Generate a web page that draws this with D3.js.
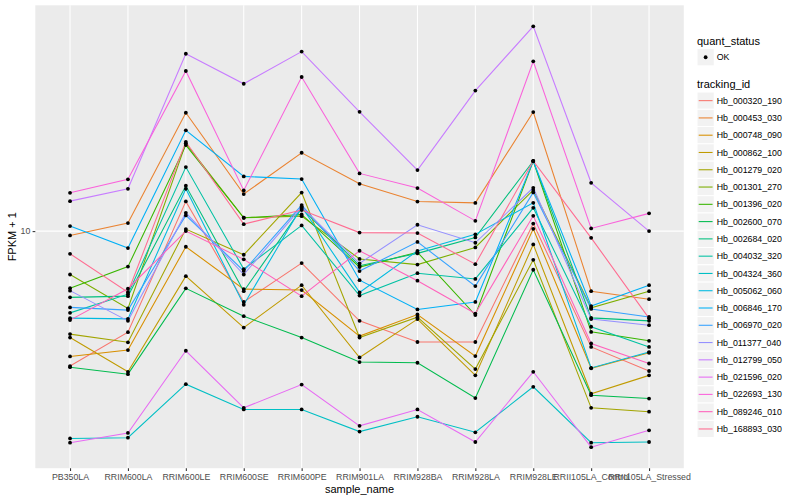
<!DOCTYPE html>
<html>
<head>
<meta charset="utf-8">
<script src="https://cdn.jsdelivr.net/npm/d3@7"></script>
<style>
  body { margin: 0; background: #fff; }
  text { font-family: "Liberation Sans", Arial, sans-serif; }
</style>
</head>
<body>
<div id="chart"></div>
<script>
// samples on the x axis
var samples = ["PB350LA", "RRIM600LA", "RRIM600LE", "RRIM600SE", "RRIM600PE", "RRIM901LA",
  "RRIM928BA", "RRIM928LA", "RRIM928LE", "RRII105LA_Control", "RRII105LA_Stressed"];

var trackingIds = ["Hb_000320_190", "Hb_000453_030", "Hb_000748_090", "Hb_000862_100", "Hb_001279_020",
  "Hb_001301_270", "Hb_001396_020", "Hb_002600_070", "Hb_002684_020", "Hb_004032_320",
  "Hb_004324_360", "Hb_005062_060", "Hb_006846_170", "Hb_006970_020", "Hb_011377_040",
  "Hb_012799_050", "Hb_021596_020", "Hb_022693_130", "Hb_089246_010", "Hb_168893_030"];

// ggplot default hue palette for 20 levels
var colors = ["#F8766D", "#EA8331", "#D89000", "#C09B00", "#A3A500", "#7CAE00", "#39B600", "#00BB4E",
  "#00BF7D", "#00C1A3", "#00BFC4", "#00BAE0", "#00B0F6", "#35A2FF", "#9590FF", "#C77CFF",
  "#E76BF3", "#FA62DB", "#FF62BC", "#FF6C91"];

var yTicks = [10];

// FPKM + 1, one row per tracking_id, one value per sample
var fpkm1 = [
  [3.07, 4.13, 12.97, 5.38, 7.56, 4.56, 3.79, 3.79, 10.68, 3.63, 2.94],
  [9.63, 10.73, 28.17, 13.83, 19.85, 15.13, 12.95, 12.80, 28.34, 5.91, 5.51],
  [3.34, 3.53, 8.72, 6.02, 5.97, 3.99, 4.82, 3.35, 10.20, 3.01, 3.45],
  [3.94, 2.92, 6.74, 4.30, 6.23, 3.31, 4.63, 2.83, 8.90, 2.41, 2.83],
  [4.06, 3.78, 10.18, 8.13, 14.01, 3.94, 4.71, 2.99, 7.78, 2.13, 2.06],
  [6.84, 5.08, 21.55, 11.24, 11.40, 7.84, 7.46, 8.67, 14.32, 5.11, 5.91],
  [6.07, 7.33, 21.23, 11.24, 11.57, 7.30, 8.31, 4.80, 18.46, 4.14, 3.83],
  [3.04, 2.86, 6.06, 4.75, 3.94, 3.18, 3.16, 2.32, 7.13, 2.38, 2.31],
  [5.60, 5.66, 14.87, 5.91, 12.20, 7.39, 8.23, 9.46, 18.46, 4.68, 4.56],
  [4.89, 5.76, 17.51, 7.17, 10.51, 5.69, 6.92, 6.58, 12.26, 4.33, 3.63],
  [1.63, 1.64, 2.62, 2.10, 2.10, 1.73, 1.97, 1.72, 2.56, 1.57, 1.58],
  [4.67, 4.64, 14.48, 5.25, 12.37, 5.85, 8.41, 9.72, 12.81, 3.02, 3.47],
  [10.45, 8.62, 24.15, 16.14, 15.77, 6.51, 5.04, 5.38, 18.46, 5.19, 6.23],
  [5.13, 5.01, 11.47, 7.06, 12.56, 7.05, 9.10, 6.18, 14.03, 5.06, 4.72],
  [5.94, 4.56, 11.74, 6.84, 12.34, 7.54, 10.57, 9.03, 14.61, 4.63, 4.39],
  [13.0, 14.48, 47.2, 36.3, 48.1, 28.4, 17.06, 34.2, 60.0, 15.26, 10.0],
  [1.57, 1.71, 3.51, 2.13, 2.61, 1.82, 2.10, 1.58, 2.92, 1.51, 1.75],
  [13.98, 15.73, 40.59, 14.28, 38.51, 16.57, 14.57, 10.94, 44.18, 10.24, 11.68],
  [4.59, 6.04, 10.00, 7.81, 5.66, 8.42, 6.48, 4.86, 11.43, 3.74, 3.14],
  [8.20, 5.86, 21.85, 10.63, 12.02, 9.87, 9.83, 7.49, 18.46, 9.43, 4.66]
];

var svgWidth = 800;
var svgHeight = 500;
var panel = { left: 35.3, right: 683.8, top: 5.3, bottom: 468.2 };

var svg = d3.select("#chart")
  .append("svg")
  .attr("width", svgWidth)
  .attr("height", svgHeight);

// scales (log y with 5% expansion like ggplot)
var allVals = d3.merge(fpkm1);
var lmin = Math.log10(d3.min(allVals)), lmax = Math.log10(d3.max(allVals));
var pad = (lmax - lmin) * 0.05;

var xScale = d3.scalePoint()
  .domain(samples)
  .range([panel.left, panel.right])
  .padding(0.6);

var yScale = d3.scaleLog()
  .domain([Math.pow(10, lmin - pad), Math.pow(10, lmax + pad)])
  .range([panel.bottom, panel.top]);

// panel + grid
svg.append("rect")
  .attr("x", panel.left).attr("y", panel.top)
  .attr("width", panel.right - panel.left).attr("height", panel.bottom - panel.top)
  .attr("fill", "#EBEBEB");

svg.append("g").selectAll("line")
  .data(samples).enter().append("line")
  .attr("x1", d => xScale(d)).attr("x2", d => xScale(d))
  .attr("y1", panel.top).attr("y2", panel.bottom)
  .attr("stroke", "#fff").attr("stroke-width", 1.07);

svg.append("g").selectAll("line")
  .data(yTicks).enter().append("line")
  .attr("x1", panel.left).attr("x2", panel.right)
  .attr("y1", d => yScale(d)).attr("y2", d => yScale(d))
  .attr("stroke", "#fff").attr("stroke-width", 1.07);

// lines
var line = d3.line()
  .x((d, i) => xScale(samples[i]))
  .y(d => yScale(d));

svg.append("g").selectAll("path")
  .data(fpkm1).enter().append("path")
  .attr("d", line)
  .attr("fill", "none")
  .attr("stroke", (d, i) => colors[i])
  .attr("stroke-width", 1.07);

// points
var pts = [];
fpkm1.forEach(function(row) {
  row.forEach(function(v, j) { pts.push({ s: samples[j], v: v }); });
});
svg.append("g").selectAll("circle")
  .data(pts).enter().append("circle")
  .attr("cx", d => xScale(d.s))
  .attr("cy", d => yScale(d.v))
  .attr("r", 1.9)
  .attr("fill", "#000");

// axes
var leftAxis = d3.axisLeft(yScale).tickValues(yTicks).tickFormat(d3.format("d"))
  .tickSize(2.7).tickPadding(2.2);
var bottomAxis = d3.axisBottom(xScale).tickSize(2.7).tickPadding(2.5);

var gy = svg.append("g").attr("transform", `translate(${panel.left},0)`).call(leftAxis);
var gx = svg.append("g").attr("transform", `translate(0,${panel.bottom})`).call(bottomAxis);
[gx, gy].forEach(function(g) {
  g.select(".domain").remove();
  g.selectAll(".tick line").attr("stroke", "#333333").attr("stroke-width", 1.07);
  g.selectAll(".tick text").attr("fill", "#4D4D4D")
    .style("font-size", "8.8px").style("font-family", "Liberation Sans, Arial, sans-serif");
});

// axis titles
svg.append("text")
  .attr("x", (panel.left + panel.right) / 2).attr("y", 493)
  .attr("text-anchor", "middle").style("font-size", "11px")
  .text("sample_name");

svg.append("text")
  .attr("transform", `translate(16,${(panel.top + panel.bottom) / 2}) rotate(-90)`)
  .attr("text-anchor", "middle").style("font-size", "11px")
  .text("FPKM + 1");

// legend
var lx = 697, keySize = 17.28;
var legend = svg.append("g");

legend.append("text").attr("x", lx).attr("y", 44.5).style("font-size", "11px").text("quant_status");
legend.append("rect").attr("x", lx).attr("y", 48.6).attr("width", keySize).attr("height", keySize)
  .attr("fill", "#F2F2F2").attr("stroke", "#fff").attr("stroke-width", 1);
legend.append("circle").attr("cx", lx + keySize / 2).attr("cy", 48.6 + keySize / 2).attr("r", 1.9).attr("fill", "#000");
legend.append("text").attr("x", lx + keySize + 2.5).attr("y", 48.6 + keySize / 2)
  .attr("dy", "0.35em").style("font-size", "8.8px").text("OK");

legend.append("text").attr("x", lx).attr("y", 88).style("font-size", "11px").text("tracking_id");

var keyTop = 92;
var items = legend.append("g").selectAll("g")
  .data(trackingIds).enter().append("g")
  .attr("transform", (d, i) => `translate(${lx},${keyTop + i * keySize})`);

items.append("rect").attr("width", keySize).attr("height", keySize)
  .attr("fill", "#F2F2F2").attr("stroke", "#fff").attr("stroke-width", 1);
items.append("line")
  .attr("x1", 1.7).attr("x2", keySize - 1.7)
  .attr("y1", keySize / 2).attr("y2", keySize / 2)
  .attr("stroke", (d, i) => colors[i]).attr("stroke-width", 1.07);
items.append("text")
  .attr("x", keySize + 2.5).attr("y", keySize / 2).attr("dy", "0.35em")
  .style("font-size", "8.8px")
  .text(d => d);
</script>
</body>
</html>
